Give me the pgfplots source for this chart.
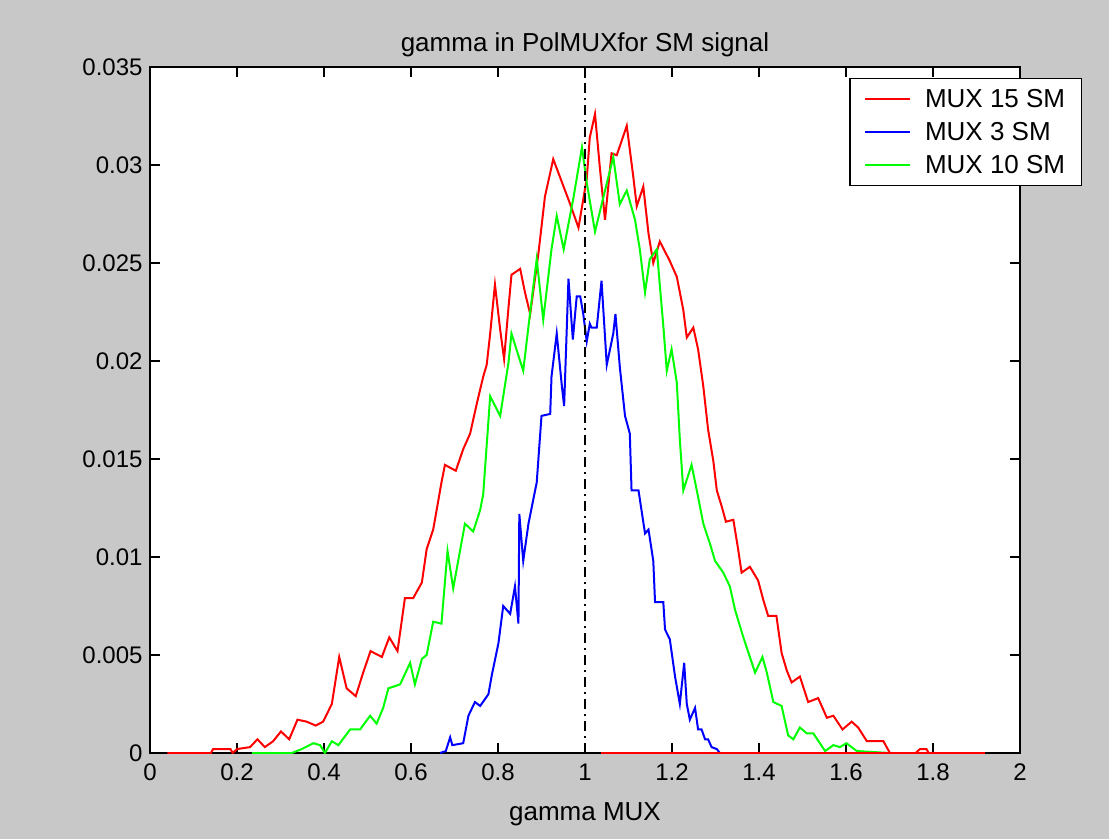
\documentclass[border=0pt]{standalone}
\usepackage{pgfplots}
\pgfplotsset{compat=1.18}
\usepackage{fontspec}
\setmainfont{Liberation Sans}
\definecolor{bggray}{RGB}{200,200,200}
\definecolor{mred}{RGB}{255,0,0}
\definecolor{mblue}{RGB}{0,0,255}
\definecolor{mgreen}{RGB}{0,255,0}

\begin{document}
\begin{tikzpicture}[x=1pt,y=1pt]
\fill[bggray] (-150,-86) rectangle (959,753);
\begin{axis}[
    at={(0,0)}, anchor=south west,
    width=870pt, height=686pt, scale only axis,
    font=\fontsize{24}{28}\selectfont,
    /pgf/number format/assume math mode=true,
    axis background/.style={fill=white},
    axis line style={black, line width=1.5pt},
    xmin=0, xmax=2, ymin=0, ymax=0.035,
    xtick={0,0.2,...,2.01},
    xticklabels={0,0.2,0.4,0.6,0.8,1,1.2,1.4,1.6,1.8,2},
    ytick={0,0.005,...,0.0351},
    yticklabels={0,0.005,0.01,0.015,0.02,0.025,0.03,0.035},
    scaled y ticks=false,
    xticklabel style={yshift=-7pt},
    yticklabel style={xshift=-4pt},
    tick align=inside,
    major tick length=10pt,
    every tick/.style={black, line width=1.5pt},
    title={gamma in PolMUXfor SM signal},
    title style={yshift=1pt, font=\fontsize{26}{30}\selectfont},
    xlabel={gamma MUX},
    xlabel style={yshift=-15pt, font=\fontsize{26}{30}\selectfont},
    legend cell align=left,
    legend style={at={(1.071,0.984)}, anchor=north east,
        draw=black, line width=1.2pt, fill=white,
        inner xsep=14pt, inner ysep=9pt, row sep=9pt,
        /tikz/every odd column/.append style={column sep=12pt},
        font=\fontsize{26}{30}\selectfont},
    legend image code/.code={
        \draw[mark repeat=2, mark phase=2, #1]
            plot coordinates {(0pt,0pt) (22pt,0pt) (45pt,0pt)};},
]
\addplot[mred, line width=2pt] coordinates {
(0.04,0) (0.14,0) (0.145,0.0002) (0.185,0.0002) (0.19,0) (0.2,0.0002)
(0.23,0.0003) (0.247,0.0007) (0.264,0.0003) (0.283,0.0006) (0.301,0.0011)
(0.32,0.0007) (0.339,0.0017) (0.36,0.0016) (0.381,0.0014) (0.398,0.0016)
(0.418,0.0025) (0.435,0.0049) (0.452,0.0033) (0.473,0.0029) (0.49,0.0041)
(0.507,0.0052) (0.533,0.0049) (0.55,0.0059) (0.569,0.0052) (0.586,0.0079)
(0.605,0.0079) (0.625,0.0087) (0.636,0.0104) (0.651,0.0114) (0.659,0.0124)
(0.67,0.0138) (0.678,0.0147) (0.703,0.0144) (0.72,0.0155) (0.736,0.0163)
(0.751,0.0178) (0.766,0.0192) (0.774,0.0198) (0.782,0.0214) (0.793,0.0239)
(0.805,0.0216) (0.814,0.0201) (0.824,0.0227) (0.831,0.0244) (0.851,0.0247)
(0.862,0.0235) (0.874,0.0224) (0.893,0.0255) (0.908,0.0284) (0.927,0.0303)
(0.966,0.028) (0.985,0.0268) (1.004,0.0293) (1.011,0.0314) (1.023,0.0326)
(1.034,0.0299) (1.046,0.0272) (1.061,0.0306) (1.073,0.0305) (1.096,0.032)
(1.111,0.0294) (1.119,0.0279) (1.134,0.0289) (1.146,0.0265) (1.157,0.025)
(1.172,0.0261) (1.195,0.0251) (1.211,0.0243) (1.226,0.0226) (1.234,0.0212)
(1.249,0.0217) (1.26,0.0206) (1.272,0.0187) (1.283,0.0165) (1.295,0.0149)
(1.303,0.0134) (1.314,0.0126) (1.324,0.0118) (1.341,0.0119) (1.352,0.0104)
(1.36,0.0092) (1.379,0.0095) (1.398,0.0088) (1.41,0.0078) (1.421,0.007)
(1.44,0.007) (1.452,0.0051) (1.464,0.0042) (1.475,0.0036) (1.494,0.0039)
(1.513,0.0026) (1.536,0.0028) (1.556,0.0018) (1.571,0.0019) (1.592,0.0012)
(1.613,0.0016) (1.628,0.0013) (1.648,0.0006) (1.686,0.0006) (1.701,0)
(1.76,0) (1.77,0.0002) (1.785,0.0002) (1.79,0) (1.92,0)
};
\addlegendentry{MUX 15 SM}
\addplot[mblue, line width=2pt] coordinates {
(0.667,0) (0.68,0.0001) (0.69,0.0008) (0.695,0.0004) (0.72,0.0005)
(0.732,0.0019) (0.747,0.0026) (0.759,0.0024) (0.778,0.003) (0.786,0.004)
(0.801,0.0056) (0.812,0.0075) (0.828,0.0071) (0.839,0.0085) (0.847,0.0066)
(0.849,0.0122) (0.858,0.0098) (0.87,0.0117) (0.889,0.0138) (0.9,0.0172)
(0.92,0.0173) (0.923,0.0192) (0.935,0.0214) (0.946,0.0189) (0.952,0.0177)
(0.962,0.0242) (0.972,0.0211) (0.981,0.0233) (0.989,0.0233) (0.996,0.0224)
(1.004,0.021) (1.011,0.0219) (1.015,0.0217) (1.027,0.0217) (1.038,0.0241)
(1.05,0.0198) (1.065,0.0214) (1.07,0.0224) (1.08,0.0197) (1.092,0.0172)
(1.103,0.0163) (1.107,0.0134) (1.123,0.0134) (1.138,0.0112) (1.146,0.0114)
(1.157,0.0098) (1.161,0.0077) (1.18,0.0077) (1.184,0.0063) (1.195,0.0058)
(1.207,0.0039) (1.218,0.0025) (1.228,0.0046) (1.234,0.0025) (1.241,0.0017)
(1.253,0.0023) (1.26,0.0012) (1.268,0.0012) (1.276,0.0007) (1.283,0.0007)
(1.291,0.0003) (1.303,0.0002) (1.31,0)
};
\addlegendentry{MUX 3 SM}
\addplot[mgreen, line width=2pt] coordinates {
(0.234,0) (0.326,0) (0.349,0.0002) (0.376,0.0005) (0.391,0.0004) (0.402,0)
(0.418,0.0006) (0.433,0.0004) (0.46,0.0012) (0.483,0.0012) (0.506,0.0019)
(0.521,0.0015) (0.536,0.0023) (0.548,0.0033) (0.575,0.0035) (0.598,0.0046)
(0.609,0.0035) (0.625,0.0048) (0.636,0.005) (0.651,0.0067) (0.67,0.0066)
(0.684,0.0103) (0.697,0.0084) (0.724,0.0117) (0.743,0.0113) (0.759,0.0124)
(0.766,0.0132) (0.782,0.0182) (0.805,0.0172) (0.824,0.0199) (0.831,0.0214)
(0.858,0.0195) (0.874,0.0225) (0.889,0.0252) (0.904,0.0221) (0.923,0.0257)
(0.935,0.0274) (0.951,0.0257) (0.974,0.0284) (0.993,0.0309) (1.004,0.0291)
(1.023,0.0266) (1.046,0.0287) (1.065,0.0304) (1.08,0.028) (1.096,0.0287)
(1.115,0.0272) (1.126,0.0257) (1.138,0.0235) (1.149,0.0252) (1.165,0.0257)
(1.18,0.0218) (1.188,0.0195) (1.199,0.0206) (1.211,0.0189) (1.218,0.016)
(1.226,0.0134) (1.245,0.0147) (1.257,0.0134) (1.272,0.0117) (1.287,0.0107)
(1.299,0.0098) (1.318,0.0092) (1.333,0.0085) (1.345,0.0073) (1.364,0.0059)
(1.379,0.0049) (1.391,0.0041) (1.408,0.0049) (1.418,0.0041) (1.433,0.0026)
(1.452,0.0024) (1.467,0.0009) (1.479,0.0007) (1.494,0.0013) (1.51,0.001)
(1.525,0.001) (1.552,0.0001) (1.571,0.0004) (1.586,0.0003) (1.601,0.0005)
(1.625,0.0001) (1.7,0)
};
\addlegendentry{MUX 10 SM}
\addplot[mred, line width=3pt, forget plot] coordinates {(1.037,0) (1.92,0)};
\addplot[black, line width=1.5pt, dash pattern=on 10pt off 5pt on 2pt off 5pt, forget plot]
    coordinates {(1,0) (1,0.035)};
\end{axis}
\pgfresetboundingbox
\path (-150,-86) rectangle (959,753);
\end{tikzpicture}
\end{document}
